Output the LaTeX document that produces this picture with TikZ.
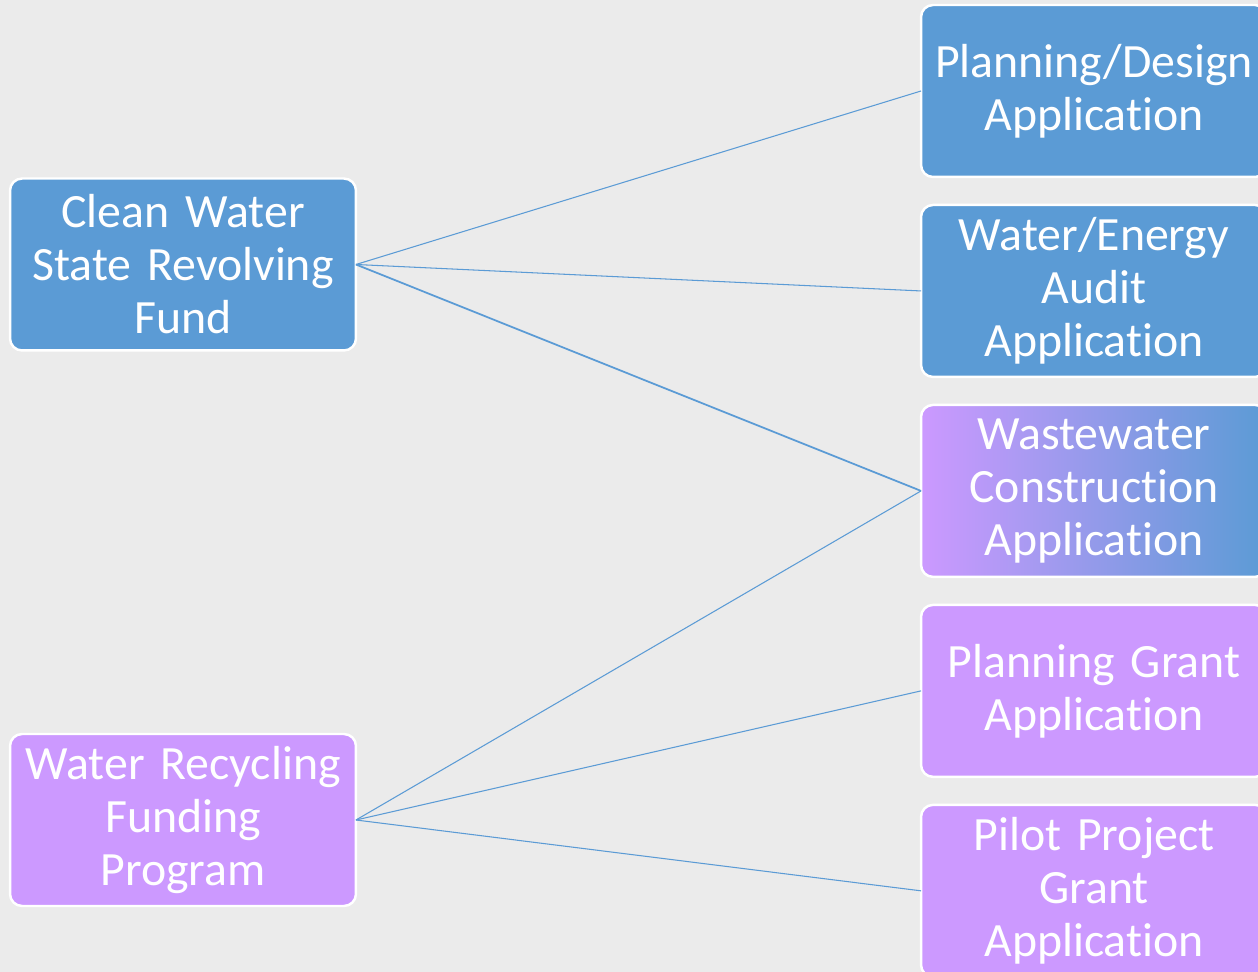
\documentclass[tikz,border=0pt]{standalone}
\usepackage{fontspec}
\setmainfont[Ligatures=NoCommon, WordSpace=0.85]{Carlito}
\usetikzlibrary{positioning}
\definecolor{fundblue}{HTML}{5B9BD5}
\definecolor{fundpurple}{HTML}{CC99FF}
\definecolor{bggray}{HTML}{EBEBEB}
\tikzset{
    fundbox/.style={draw=white, line width=1.4pt, rounded corners=0.24cm, minimum width=6.92cm, minimum height=3.44cm, text width=6.6cm, align=center, text=white, inner sep=0pt, outer sep=0pt, font=\fontsize{27.2}{30.2}\selectfont},
    bluebox/.style={fundbox, fill=fundblue},
    purplebox/.style={fundbox, fill=fundpurple},
    mixbox/.style={fundbox, left color=fundpurple, middle color=fundpurple!85!fundblue, right color=fundblue},
    link/.style={draw=fundblue, line width=0.6pt}
}

\begin{document}
\begin{tikzpicture}[x=0.02cm, y=-0.02cm, node distance=0.56cm]
	\useasboundingbox (0,0) rectangle (1258,972);
	\fill[bggray] (0,0) rectangle (1258,972);
	\clip (0,0) rectangle (1258,972);
	% left column
	\node(CWSRF)[bluebox] at (183,264.5) {Clean Water\\State Revolving\\Fund};
	\node(WRFP)[purplebox] at (183,820) {Water Recycling\\Funding\\Program};
	% right column
	\node(Design)[bluebox] at (1094,91) {Planning/Design\\Application};
	\node(Audit)[bluebox, below=of Design] {Water/Energy\\Audit\\Application};
	\node(Waste)[mixbox, below=of Audit] {Wastewater\\Construction\\Application};
	\node(Grant)[purplebox, below=of Waste] {Planning Grant\\Application};
	\node(Pilot)[purplebox, below=of Grant] {Pilot Project\\Grant\\Application};
	% links
	\draw[link](CWSRF.east)--(Design.west);
	\draw[link](CWSRF.east)--(Audit.west);
	\draw[link, line width=1pt](CWSRF.east)--(Waste.west);
	\draw[link](WRFP.east)--(Waste.west);
	\draw[link](WRFP.east)--(Grant.west);
	\draw[link](WRFP.east)--(Pilot.west);
\end{tikzpicture}
\end{document}
